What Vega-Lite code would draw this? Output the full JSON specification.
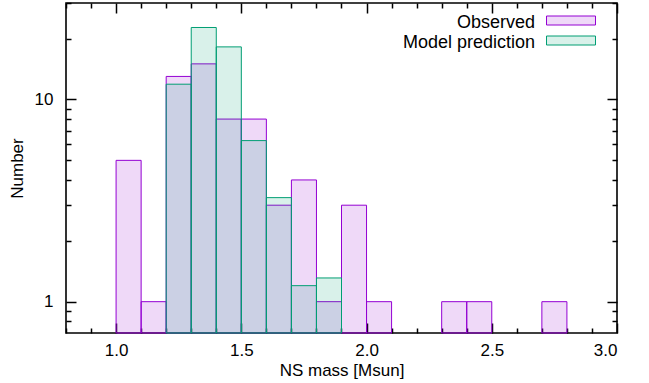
{
  "$schema": "https://vega.github.io/schema/vega-lite/v6.json",
  "width": 551,
  "height": 330,
  "autosize": {"type": "none"},
  "padding": {"left": 66, "top": 3, "right": 32, "bottom": 50},
  "background": "white",
  "config": {
    "view": {"stroke": "black", "strokeWidth": 1.6},
    "font": "Liberation Sans",
    "axis": {
      "grid": false,
      "domain": false,
      "zindex": 1,
      "ticks": true,
      "tickColor": "black",
      "tickWidth": 1.5,
      "labelFont": "Liberation Sans",
      "labelFontSize": 17,
      "labelColor": "black",
      "titleFont": "Liberation Sans",
      "titleFontSize": 17,
      "titleFontWeight": "normal",
      "titleColor": "black"
    },
    "legend": {"rowPadding": -4}
  },
  "datasets": {
    "observed": [
      {"series": "Observed", "lo": 1.0, "hi": 1.1, "count": 5},
      {"series": "Observed", "lo": 1.1, "hi": 1.2, "count": 1},
      {"series": "Observed", "lo": 1.2, "hi": 1.3, "count": 13},
      {"series": "Observed", "lo": 1.3, "hi": 1.4, "count": 15},
      {"series": "Observed", "lo": 1.4, "hi": 1.5, "count": 8},
      {"series": "Observed", "lo": 1.5, "hi": 1.6, "count": 8},
      {"series": "Observed", "lo": 1.6, "hi": 1.7, "count": 3},
      {"series": "Observed", "lo": 1.7, "hi": 1.8, "count": 4},
      {"series": "Observed", "lo": 1.8, "hi": 1.9, "count": 1},
      {"series": "Observed", "lo": 1.9, "hi": 2.0, "count": 3},
      {"series": "Observed", "lo": 2.0, "hi": 2.1, "count": 1},
      {"series": "Observed", "lo": 2.3, "hi": 2.4, "count": 1},
      {"series": "Observed", "lo": 2.4, "hi": 2.5, "count": 1},
      {"series": "Observed", "lo": 2.7, "hi": 2.8, "count": 1}
    ],
    "model": [
      {"series": "Model prediction", "lo": 1.2, "hi": 1.3, "count": 11.9},
      {"series": "Model prediction", "lo": 1.3, "hi": 1.4, "count": 22.7},
      {"series": "Model prediction", "lo": 1.4, "hi": 1.5, "count": 18.2},
      {"series": "Model prediction", "lo": 1.5, "hi": 1.6, "count": 6.26},
      {"series": "Model prediction", "lo": 1.6, "hi": 1.7, "count": 3.27},
      {"series": "Model prediction", "lo": 1.7, "hi": 1.8, "count": 1.2},
      {"series": "Model prediction", "lo": 1.8, "hi": 1.9, "count": 1.31}
    ]
  },
  "layer": [
    {
      "data": {"name": "observed"},
      "mark": {"type": "bar", "fillOpacity": 0.15, "strokeWidth": 1},
      "encoding": {
        "x": {
          "field": "lo",
          "type": "quantitative",
          "scale": {"domain": [0.8, 3.0], "nice": false, "zero": false},
          "axis": {
            "orient": "bottom",
            "title": "NS mass [Msun]",
            "titlePadding": 4,
            "labelPadding": 19.5,
            "values": [0.8, 0.9, 1.0, 1.1, 1.2, 1.3, 1.4, 1.5, 1.6, 1.7, 1.8, 1.9, 2.0, 2.1, 2.2, 2.3, 2.4, 2.5, 2.6, 2.7, 2.8, 2.9, 3.0],
            "labelExpr": "abs(datum.value*2 - round(datum.value*2)) < 1e-6 ? format(datum.value, '.1f') : ''",
            "tickSize": {"condition": {"test": "abs(datum.value*2 - round(datum.value*2)) < 1e-6", "value": -10}, "value": -5}
          }
        },
        "x2": {"field": "hi"},
        "y": {
          "field": "count",
          "type": "quantitative",
          "scale": {"type": "log", "domain": [0.7, 30], "nice": false},
          "axis": {
            "orient": "left",
            "title": "Number",
            "titlePadding": 8,
            "labelPadding": 23,
            "values": [0.8, 0.9, 1, 2, 3, 4, 5, 6, 7, 8, 9, 10, 20, 30],
            "labelExpr": "datum.value == 1 || datum.value == 10 ? format(datum.value, 'd') : ''",
            "tickSize": {"condition": {"test": "datum.value == 1 || datum.value == 10", "value": -10}, "value": -5}
          }
        },
        "y2": {"datum": 0.7},
        "fill": {
          "field": "series",
          "type": "nominal",
          "scale": {"domain": ["Observed", "Model prediction"], "range": ["#9400d3", "#009e73"]},
          "legend": {
            "title": null,
            "orient": "none",
            "legendX": 476,
            "legendY": 8.5,
            "padding": 0,
            "symbolType": "M-1,-1H9.89V1H-1Z",
            "symbolSize": 81,
            "symbolStrokeWidth": 1,
            "labelAlign": "right",
            "labelOffset": -25,
            "labelFont": "Liberation Sans",
            "labelFontSize": 18,
            "labelColor": "black",
            "rowPadding": -4,
            "encode": {
              "symbols": {"update": {"fillOpacity": {"value": 0.15}, "strokeWidth": {"value": 1}, "opacity": {"value": 1}}},
              "labels": {"update": {"dy": {"value": 2}}}
            }
          }
        },
        "stroke": {
          "field": "series",
          "type": "nominal",
          "scale": {"domain": ["Observed", "Model prediction"], "range": ["#9400d3", "#009e73"]}
        }
      }
    },
    {
      "data": {"name": "model"},
      "mark": {"type": "bar", "fillOpacity": 0.15, "strokeWidth": 1},
      "encoding": {
        "x": {
          "field": "lo",
          "type": "quantitative",
          "axis": {
            "orient": "top",
            "title": null,
            "labels": false,
            "values": [0.8, 0.9, 1.0, 1.1, 1.2, 1.3, 1.4, 1.5, 1.6, 1.7, 1.8, 1.9, 2.0, 2.1, 2.2, 2.3, 2.4, 2.5, 2.6, 2.7, 2.8, 2.9, 3.0],
            "tickSize": {"condition": {"test": "abs(datum.value*2 - round(datum.value*2)) < 1e-6", "value": -10}, "value": -5}
          }
        },
        "x2": {"field": "hi"},
        "y": {
          "field": "count",
          "type": "quantitative",
          "axis": {
            "orient": "right",
            "title": null,
            "labels": false,
            "values": [0.8, 0.9, 1, 2, 3, 4, 5, 6, 7, 8, 9, 10, 20, 30],
            "tickSize": {"condition": {"test": "datum.value == 1 || datum.value == 10", "value": -10}, "value": -5}
          }
        },
        "y2": {"datum": 0.7},
        "fill": {"field": "series", "type": "nominal"},
        "stroke": {"field": "series", "type": "nominal"}
      }
    }
  ],
  "resolve": {"axis": {"x": "independent", "y": "independent"}}
}
